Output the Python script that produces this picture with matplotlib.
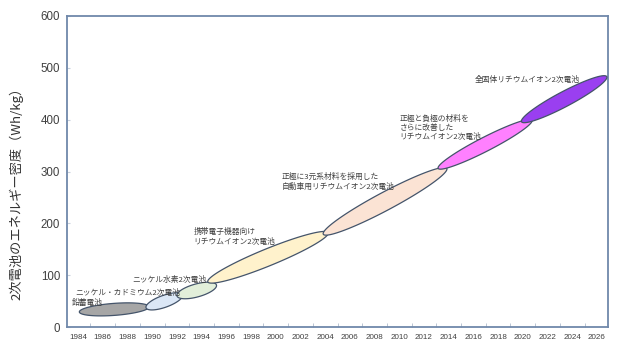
import numpy as np
import matplotlib
matplotlib.use("Agg")
import matplotlib.pyplot as plt
from matplotlib.patches import Polygon

plt.rcParams['font.family'] = ['Noto Sans CJK JP', 'DejaVu Sans']

# ---- data ----
batteries = ["鉛蓄電池", "ニッケル・カドミウム2次電池", "ニッケル水素2次電池",
             "携帯電子機器向け\nリチウムイオン2次電池",
             "正極に3元系材料を採用した\n自動車用リチウムイオン2次電池",
             "正極と負極の材料を\nさらに改善した\nリチウムイオン2次電池",
             "全固体リチウムイオン2次電池"]
year_start = [1984.1, 1989.5, 1992.0, 1994.5, 2003.85, 2013.15, 2019.9]
year_end = [1989.75, 1992.45, 1995.2, 2004.25, 2013.85, 2020.75, 2026.8]
density_start = [29, 37, 60, 87, 179, 306, 396]
density_end = [39, 62, 81, 182, 306, 399, 483]
label_year = [1983.5, 1983.75, 1988.35, 1993.35, 2000.5, 2010.0, 2016.1]
label_density = [47, 66, 90, 173.6, 280.3, 384.8, 476.5]
xtick_years = list(range(1984, 2027, 2))
yticks = [0, 100, 200, 300, 400, 500, 600]

# ---- styles ----
thickness_px = [12, 12, 13, 17, 18, 14, 15]
fills = ["#a6a6a6", "#dbe7f6", "#e2efda", "#fff2cc", "#fbe3d4", "#ff80ff", "#9a3ff0"]
edge = "#44546a"
spine_col = "#7088aa"
text_col = "#404040"

fig = plt.figure(figsize=(6.3, 3.53), dpi=100)
ax = fig.add_axes([67/630, 1-327/353, 541/630, 311/353])
ax.set_xlim(1983.1, 2026.9)
ax.set_ylim(0, 600)

for s in ax.spines.values():
    s.set_color(spine_col)
    s.set_linewidth(1.3)

ax.set_xticks(xtick_years)
ax.set_xticklabels([str(y) for y in xtick_years], family='Liberation Sans', fontsize=5.8, color=text_col)
ax.set_xticks(list(range(1985, 2027, 2)), minor=True)
ax.tick_params(axis='x', which='major', length=0, pad=5)
ax.tick_params(axis='x', which='minor', direction='in', length=3, color="#b0bccc")
ax.set_yticks(yticks)
ax.set_yticklabels([str(v) for v in yticks], family='Liberation Sans', fontsize=8.3, color=text_col)
ax.tick_params(axis='y', direction='in', length=2, color="#c8d0dc", pad=5)

ax.set_ylabel("2次電池のエネルギー密度（Wh/kg）", fontsize=9.5, color="#333333")
ax.yaxis.set_label_coords(-0.081, 0.44)

# ellipses built in display space, mapped back to data through the axes transform
t = np.linspace(0, 2*np.pi, 200)
to_disp = ax.transData
to_data = ax.transData.inverted()
for i in range(len(batteries)):
    p0 = to_disp.transform((year_start[i], density_start[i]))
    p1 = to_disp.transform((year_end[i], density_end[i]))
    c = (p0 + p1) / 2
    d = p1 - p0
    a = np.hypot(*d) / 2
    b = thickness_px[i] / 2
    ang = np.arctan2(d[1], d[0])
    xs = a*np.cos(t); ys = b*np.sin(t)
    pts = np.column_stack([c[0] + xs*np.cos(ang) - ys*np.sin(ang),
                           c[1] + xs*np.sin(ang) + ys*np.cos(ang)])
    ax.add_patch(Polygon(to_data.transform(pts), closed=True, facecolor=fills[i],
                         edgecolor=edge, linewidth=0.9, zorder=3+i))

for i, name in enumerate(batteries):
    ax.text(label_year[i], label_density[i], name, fontsize=5.6, color=text_col,
            ha='left', va='center', linespacing=1.2, zorder=20)

fig.savefig("out.png", dpi=100)
